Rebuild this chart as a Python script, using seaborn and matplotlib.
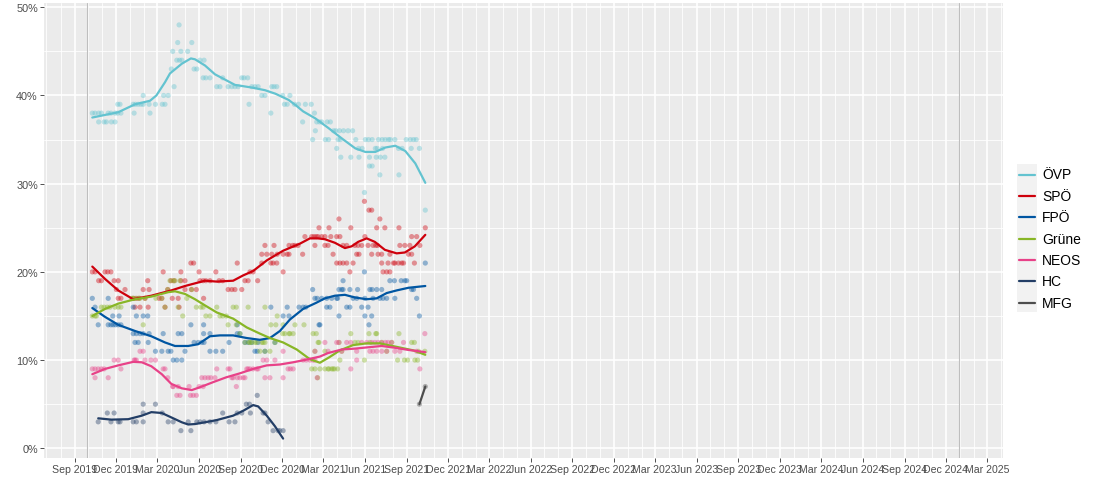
import matplotlib
matplotlib.use("Agg")
import matplotlib.pyplot as plt
import matplotlib.dates as mdates
from matplotlib.lines import Line2D
from matplotlib.patches import Rectangle
import pandas as pd
import seaborn as sns

# ---------------- data ----------------
PARTIES = ["ÖVP", "SPÖ", "FPÖ", "Grüne", "NEOS", "HC", "MFG"]
COLORS = ["#63C3D0", "#CE000C", "#0056A2", "#88B626", "#E84188", "#233E66", "#4D4D4D"]
Y_TICKS = [0, 10, 20, 30, 40, 50]
ELECTION_DATE = "2019-09-29"
END_DATE = "2024-12-30"

OEVP_DATES = [
    "2019-10-10", "2019-10-16", "2019-10-24", "2019-10-24", "2019-10-30", "2019-11-05", "2019-11-10", "2019-11-14", "2019-11-20", "2019-11-21",
    "2019-11-29", "2019-11-29", "2019-12-05", "2019-12-05", "2019-12-10", "2019-12-12", "2020-01-08", "2020-01-10", "2020-01-13", "2020-01-19",
    "2020-01-25", "2020-01-30", "2020-01-30", "2020-02-12", "2020-02-14", "2020-02-26", "2020-03-12", "2020-03-15", "2020-03-18", "2020-03-25",
    "2020-04-01", "2020-04-04", "2020-04-07", "2020-04-13", "2020-04-15", "2020-04-18", "2020-04-19", "2020-04-22", "2020-04-24", "2020-05-07",
    "2020-05-16", "2020-05-21", "2020-05-27", "2020-06-03", "2020-06-10", "2020-06-12", "2020-06-16", "2020-06-25", "2020-07-10", "2020-07-17",
    "2020-07-23", "2020-08-04", "2020-08-12", "2020-08-19", "2020-08-26", "2020-09-03", "2020-09-08", "2020-09-16", "2020-09-19", "2020-09-25",
    "2020-10-02", "2020-10-09", "2020-10-17", "2020-10-24", "2020-11-06", "2020-11-08", "2020-11-13", "2020-11-19", "2020-12-02", "2020-12-06",
    "2020-12-12", "2020-12-18", "2020-12-28", "2021-01-06", "2021-01-15", "2021-01-21", "2021-02-03", "2021-02-06", "2021-02-10", "2021-02-12",
    "2021-02-15", "2021-02-21", "2021-02-26", "2021-03-06", "2021-03-10", "2021-03-13", "2021-03-17", "2021-03-24", "2021-03-29", "2021-03-31",
    "2021-04-03", "2021-04-06", "2021-04-08", "2021-04-09", "2021-04-15", "2021-04-25", "2021-05-01", "2021-05-05", "2021-05-12", "2021-05-18",
    "2021-05-19", "2021-05-26", "2021-05-31", "2021-06-02", "2021-06-09", "2021-06-11", "2021-06-11", "2021-06-17", "2021-06-17", "2021-06-24",
    "2021-06-26", "2021-06-28", "2021-07-01", "2021-07-04", "2021-07-05", "2021-07-09", "2021-07-10", "2021-07-15", "2021-07-16", "2021-07-23",
    "2021-07-27", "2021-08-06", "2021-08-14", "2021-08-15", "2021-08-22", "2021-08-31", "2021-09-09", "2021-09-11", "2021-09-16", "2021-09-22",
    "2021-09-29", "2021-10-12"]
OEVP_VALUES = [
    38, 38, 37, 38, 38, 37, 37, 38, 38, 37,
    37, 38, 39, 38, 39, 38, 39, 38, 39, 39,
    39, 40, 39, 39, 38, 39, 39, 40, 39, 40,
    43, 45, 41, 44, 46, 48, 44, 45, 44, 45,
    46, 43, 43, 44, 42, 44, 42, 42, 41, 41,
    42, 41, 41, 41, 41, 42, 42, 42, 39, 41,
    41, 41, 40, 40, 38, 41, 41, 41, 40, 39,
    39, 40, 39, 39, 37, 39, 39, 35, 38, 36,
    37, 37, 37, 35, 37, 35, 37, 36, 36, 34,
    35, 36, 35, 33, 36, 36, 33, 36, 35, 34,
    33, 34, 29, 35, 35, 32, 33, 35, 32, 34,
    33, 34, 35, 31, 33, 35, 34, 33, 35, 35,
    35, 35, 34, 31, 34, 35, 35, 34, 35, 35,
    34, 27]

SPOE_DATES = [
    "2019-10-10", "2019-10-16", "2019-10-24", "2019-10-30", "2019-11-07", "2019-11-13", "2019-11-20", "2019-11-27", "2019-12-02", "2019-12-06",
    "2019-12-06", "2019-12-12", "2019-12-21", "2020-01-08", "2020-01-12", "2020-01-15", "2020-01-21", "2020-01-23", "2020-01-30", "2020-02-03",
    "2020-02-09", "2020-02-10", "2020-02-12", "2020-03-05", "2020-03-11", "2020-03-14", "2020-03-18", "2020-03-24", "2020-03-31", "2020-04-03",
    "2020-04-07", "2020-04-16", "2020-04-18", "2020-04-22", "2020-04-22", "2020-05-01", "2020-05-01", "2020-05-14", "2020-05-15", "2020-05-20",
    "2020-05-26", "2020-06-01", "2020-06-03", "2020-06-10", "2020-06-11", "2020-06-16", "2020-06-25", "2020-07-08", "2020-07-15", "2020-07-23",
    "2020-08-04", "2020-08-12", "2020-08-19", "2020-08-24", "2020-09-03", "2020-09-10", "2020-09-17", "2020-09-21", "2020-09-28", "2020-10-08",
    "2020-10-17", "2020-10-17", "2020-10-24", "2020-10-28", "2020-11-06", "2020-11-08", "2020-11-11", "2020-11-13", "2020-11-19", "2020-11-20",
    "2020-12-03", "2020-12-03", "2020-12-12", "2020-12-16", "2020-12-16", "2020-12-24", "2020-12-29", "2021-01-05", "2021-01-15", "2021-01-20",
    "2021-02-04", "2021-02-09", "2021-02-11", "2021-02-14", "2021-02-18", "2021-02-20", "2021-02-26", "2021-03-05", "2021-03-05", "2021-03-12",
    "2021-03-14", "2021-03-18", "2021-03-23", "2021-03-31", "2021-03-31", "2021-04-05", "2021-04-07", "2021-04-07", "2021-04-14", "2021-04-14",
    "2021-04-22", "2021-04-22", "2021-04-29", "2021-05-01", "2021-05-06", "2021-05-10", "2021-05-14", "2021-05-17", "2021-05-19", "2021-05-25",
    "2021-05-31", "2021-06-01", "2021-06-08", "2021-06-10", "2021-06-16", "2021-06-16", "2021-06-19", "2021-06-25", "2021-06-27", "2021-06-29",
    "2021-06-30", "2021-07-04", "2021-07-08", "2021-07-08", "2021-07-11", "2021-07-15", "2021-07-19", "2021-07-22", "2021-07-26", "2021-07-26",
    "2021-08-03", "2021-08-06", "2021-08-14", "2021-08-15", "2021-08-17", "2021-08-21", "2021-08-25", "2021-08-28", "2021-09-05", "2021-09-08",
    "2021-09-12", "2021-09-12", "2021-09-18", "2021-09-23", "2021-09-30", "2021-10-12"]
SPOE_VALUES = [
    20, 20, 19, 19, 20, 20, 20, 19, 18, 19,
    17, 17, 18, 17, 16, 17, 17, 16, 18, 17,
    19, 16, 18, 17, 17, 20, 16, 18, 19, 17,
    19, 17, 16, 20, 19, 18, 19, 21, 18, 21,
    18, 20, 19, 19, 17, 19, 19, 20, 19, 19,
    18, 18, 18, 21, 18, 19, 19, 20, 20, 19,
    22, 21, 23, 22, 21, 22, 21, 23, 21, 22,
    22, 20, 22, 23, 22, 23, 23, 23, 22, 24,
    24, 24, 23, 24, 24, 25, 24, 24, 23, 23,
    25, 24, 22, 24, 21, 26, 24, 21, 23, 21,
    23, 21, 20, 25, 21, 23, 22, 23, 22, 23,
    28, 24, 23, 27, 27, 22, 23, 23, 25, 23,
    22, 26, 22, 21, 20, 25, 20, 21, 22, 20,
    21, 21, 21, 25, 23, 21, 21, 23, 22, 23,
    24, 22, 21, 24, 23, 25]

FPOE_DATES = [
    "2019-10-10", "2019-10-16", "2019-10-23", "2019-11-14", "2019-11-14", "2019-11-20", "2019-11-24", "2019-11-25", "2019-11-30", "2019-12-06",
    "2019-12-08", "2019-12-12", "2020-01-08", "2020-01-08", "2020-01-12", "2020-01-15", "2020-01-15", "2020-01-19", "2020-01-23", "2020-01-30",
    "2020-01-30", "2020-02-09", "2020-02-10", "2020-02-12", "2020-02-26", "2020-03-11", "2020-03-14", "2020-03-25", "2020-03-31", "2020-04-05",
    "2020-04-13", "2020-04-16", "2020-04-24", "2020-04-24", "2020-05-01", "2020-05-14", "2020-05-21", "2020-05-30", "2020-06-07", "2020-06-11",
    "2020-06-11", "2020-06-12", "2020-06-25", "2020-06-25", "2020-07-08", "2020-07-23", "2020-08-06", "2020-08-24", "2020-08-24", "2020-08-30",
    "2020-09-10", "2020-09-17", "2020-09-25", "2020-10-02", "2020-10-07", "2020-10-09", "2020-10-24", "2020-11-06", "2020-11-15", "2020-12-03",
    "2020-12-12", "2020-12-16", "2021-01-07", "2021-01-16", "2021-01-22", "2021-02-06", "2021-02-11", "2021-02-16", "2021-02-20", "2021-02-22",
    "2021-02-26", "2021-03-09", "2021-03-09", "2021-03-16", "2021-03-20", "2021-03-31", "2021-04-02", "2021-04-05", "2021-04-05", "2021-04-11",
    "2021-04-14", "2021-04-14", "2021-04-22", "2021-04-29", "2021-04-29", "2021-05-06", "2021-05-14", "2021-05-16", "2021-05-25", "2021-05-31",
    "2021-06-01", "2021-06-01", "2021-06-08", "2021-06-10", "2021-06-12", "2021-06-16", "2021-06-17", "2021-06-19", "2021-06-27", "2021-07-04",
    "2021-07-08", "2021-07-11", "2021-07-19", "2021-07-26", "2021-08-05", "2021-08-06", "2021-08-20", "2021-08-28", "2021-09-01", "2021-09-12",
    "2021-09-16", "2021-09-23", "2021-09-29", "2021-10-12"]
FPOE_VALUES = [
    17, 16, 14, 17, 14, 14, 15, 14, 14, 14,
    15, 14, 13, 16, 12, 15, 13, 12, 13, 15,
    13, 15, 12, 13, 11, 11, 13, 11, 11, 10,
    10, 13, 13, 10, 11, 14, 12, 12, 12, 14,
    13, 12, 13, 11, 11, 11, 12, 14, 13, 13,
    12, 12, 12, 11, 11, 12, 11, 16, 12, 15,
    16, 15, 16, 16, 16, 18, 17, 17, 14, 14,
    17, 17, 16, 16, 17, 17, 17, 18, 15, 18,
    18, 19, 16, 16, 18, 17, 17, 18, 16, 20,
    17, 15, 16, 14, 18, 15, 18, 17, 18, 17,
    18, 17, 17, 19, 19, 17, 19, 19, 19, 18,
    18, 17, 15, 21]

GRUENE_DATES = [
    "2019-10-10", "2019-10-16", "2019-10-19", "2019-10-30", "2019-11-05", "2019-11-12", "2019-11-18", "2019-11-29", "2019-12-06", "2019-12-12",
    "2020-01-05", "2020-01-08", "2020-01-12", "2020-01-19", "2020-01-23", "2020-01-30", "2020-02-03", "2020-02-27", "2020-03-11", "2020-03-18",
    "2020-03-24", "2020-03-29", "2020-04-05", "2020-04-09", "2020-04-16", "2020-04-20", "2020-04-26", "2020-05-05", "2020-05-16", "2020-05-26",
    "2020-06-05", "2020-06-10", "2020-06-16", "2020-06-25", "2020-07-10", "2020-07-17", "2020-07-23", "2020-07-31", "2020-08-04", "2020-08-15",
    "2020-08-22", "2020-08-22", "2020-08-30", "2020-09-10", "2020-09-17", "2020-09-19", "2020-09-21", "2020-09-25", "2020-10-02", "2020-10-06",
    "2020-10-13", "2020-10-17", "2020-10-20", "2020-10-24", "2020-10-24", "2020-10-24", "2020-11-04", "2020-11-06", "2020-11-15", "2020-11-17",
    "2020-11-20", "2020-12-02", "2020-12-03", "2020-12-07", "2020-12-16", "2020-12-18", "2020-12-25", "2020-12-29", "2021-01-18", "2021-02-04",
    "2021-02-07", "2021-02-11", "2021-02-11", "2021-02-14", "2021-02-17", "2021-02-18", "2021-02-20", "2021-02-22", "2021-03-05", "2021-03-05",
    "2021-03-12", "2021-03-14", "2021-03-20", "2021-03-23", "2021-03-26", "2021-04-02", "2021-04-05", "2021-04-07", "2021-04-11", "2021-05-01",
    "2021-05-10", "2021-05-17", "2021-05-31", "2021-06-10", "2021-06-12", "2021-06-25", "2021-06-27", "2021-07-08", "2021-07-19", "2021-07-30",
    "2021-08-12", "2021-08-15", "2021-08-27", "2021-09-03", "2021-09-12", "2021-09-18", "2021-09-19", "2021-09-25", "2021-09-27", "2021-10-11"]
GRUENE_VALUES = [
    15, 15, 15, 16, 16, 16, 16, 16, 16, 16,
    17, 17, 17, 17, 17, 14, 17, 17, 17, 16,
    18, 19, 19, 19, 16, 19, 15, 17, 18, 16,
    16, 16, 15, 15, 16, 15, 15, 15, 14, 16,
    16, 14, 13, 12, 16, 12, 12, 12, 12, 12,
    11, 12, 12, 16, 11, 12, 11, 14, 12, 14,
    15, 13, 14, 13, 13, 13, 13, 14, 14, 9,
    13, 9, 11, 13, 8, 12, 12, 9, 11, 9,
    9, 9, 9, 9, 9, 9, 12, 10, 11, 13,
    12, 12, 10, 13, 12, 13, 13, 12, 11, 12,
    10, 13, 10, 10, 12, 12, 10, 10, 11, 11]

NEOS_DATES = [
    "2019-10-10", "2019-10-16", "2019-10-16", "2019-10-23", "2019-10-30", "2019-11-05", "2019-11-14", "2019-11-27", "2019-12-06", "2019-12-12",
    "2020-01-10", "2020-01-12", "2020-01-15", "2020-01-23", "2020-01-30", "2020-02-03", "2020-02-16", "2020-02-26", "2020-03-14", "2020-03-18",
    "2020-03-24", "2020-04-04", "2020-04-05", "2020-04-13", "2020-04-16", "2020-04-20", "2020-05-10", "2020-05-13", "2020-05-19", "2020-05-26",
    "2020-06-01", "2020-06-07", "2020-06-10", "2020-06-14", "2020-06-21", "2020-06-27", "2020-07-06", "2020-07-10", "2020-08-04", "2020-08-08",
    "2020-08-12", "2020-08-15", "2020-08-22", "2020-08-24", "2020-08-30", "2020-09-06", "2020-09-10", "2020-09-14", "2020-09-17", "2020-09-21",
    "2020-09-28", "2020-10-06", "2020-10-09", "2020-10-20", "2020-10-24", "2020-10-28", "2020-11-04", "2020-11-15", "2020-12-03", "2020-12-03",
    "2020-12-14", "2020-12-19", "2020-12-25", "2021-01-16", "2021-01-23", "2021-01-31", "2021-02-07", "2021-02-11", "2021-02-11", "2021-02-16",
    "2021-03-05", "2021-03-12", "2021-03-31", "2021-04-05", "2021-04-11", "2021-04-22", "2021-05-01", "2021-05-01", "2021-05-14", "2021-05-14",
    "2021-05-25", "2021-06-05", "2021-06-12", "2021-06-16", "2021-06-19", "2021-06-23", "2021-06-27", "2021-06-30", "2021-07-08", "2021-07-08",
    "2021-07-16", "2021-07-19", "2021-07-22", "2021-07-30", "2021-08-06", "2021-08-17", "2021-08-25", "2021-09-23", "2021-09-30", "2021-10-11"]
NEOS_VALUES = [
    9, 9, 8, 9, 9, 9, 8, 10, 10, 9,
    10, 10, 10, 11, 11, 10, 10, 10, 9, 9,
    8, 7, 7, 6, 7, 6, 7, 6, 6, 6,
    7, 8, 7, 8, 8, 8, 8, 9, 9, 9,
    8, 8, 7, 8, 8, 8, 8, 9, 9, 9,
    9, 9, 9, 10, 8, 10, 8, 10, 11, 8,
    9, 9, 9, 10, 10, 10, 10, 11, 10, 8,
    12, 11, 12, 12, 11, 12, 12, 9, 11, 10,
    12, 12, 11, 12, 11, 12, 11, 12, 12, 11,
    12, 11, 12, 12, 11, 11, 12, 11, 9, 13]

HC_DATES = [
    "2019-10-23", "2019-11-12", "2019-11-20", "2019-11-27", "2019-12-06", "2019-12-10", "2020-01-08", "2020-01-15", "2020-01-30", "2020-01-30",
    "2020-01-30", "2020-02-26", "2020-03-12", "2020-03-25", "2020-04-05", "2020-04-22", "2020-05-08", "2020-05-14", "2020-05-27", "2020-06-03",
    "2020-06-12", "2020-06-25", "2020-07-08", "2020-07-23", "2020-08-06", "2020-08-19", "2020-08-24", "2020-09-03", "2020-09-13", "2020-09-20",
    "2020-09-22", "2020-10-07", "2020-10-20", "2020-10-24", "2020-10-31", "2020-11-11", "2020-11-22", "2020-11-26", "2020-12-03"]
HC_VALUES = [
    3, 4, 3, 4, 3, 3, 3, 3, 3, 4,
    5, 5, 4, 3, 3, 2, 3, 2, 3, 3,
    3, 3, 3, 4, 3, 3, 4, 4, 5, 5,
    4, 6, 4, 4, 3, 2, 2, 2, 2]

MFG_DATES = ["2021-09-29", "2021-10-12"]
MFG_VALUES = [5, 7]

# smoothed trend lines
OEVP_TREND_DATES = ["2019-10-10", "2019-12-06", "2020-01-12", "2020-02-14", "2020-02-28", "2020-03-18", "2020-03-29", "2020-04-24", "2020-05-14", "2020-05-23",
                    "2020-06-14", "2020-07-06", "2020-07-28", "2020-08-19", "2020-09-25", "2020-10-24", "2020-11-16", "2020-12-15", "2021-01-02", "2021-01-16",
                    "2021-02-12", "2021-03-13", "2021-04-12", "2021-05-11", "2021-06-02", "2021-06-24", "2021-07-16", "2021-08-07", "2021-08-29", "2021-09-20",
                    "2021-10-12"]
OEVP_TREND_VALUES = [37.5, 38.1, 39.0, 39.4, 40.0, 41.5, 42.5, 43.6, 44.2, 44.1,
                     43.4, 42.4, 41.8, 41.2, 40.9, 40.6, 40.2, 39.5, 38.8, 38.2,
                     37.4, 36.3, 35.1, 34.0, 33.6, 33.6, 34.1, 34.3, 33.7, 32.3,
                     30.1]
SPOE_TREND_DATES = ["2019-10-10", "2019-11-07", "2019-12-06", "2020-01-08", "2020-02-17", "2020-04-01", "2020-05-01", "2020-06-14", "2020-07-10", "2020-08-15",
                    "2020-09-06", "2020-09-28", "2020-10-28", "2020-12-03", "2021-01-09", "2021-01-31", "2021-02-18", "2021-03-05", "2021-03-27", "2021-04-18",
                    "2021-05-03", "2021-05-17", "2021-06-05", "2021-06-23", "2021-07-15", "2021-08-10", "2021-08-28", "2021-09-19", "2021-10-12"]
SPOE_TREND_VALUES = [20.6, 19.2, 17.9, 16.9, 17.3, 17.9, 18.4, 19.0, 18.9, 19.0,
                     19.6, 20.1, 21.3, 22.4, 23.2, 23.8, 23.8, 23.7, 23.3, 22.7,
                     22.9, 23.4, 23.8, 23.4, 22.5, 22.1, 22.2, 22.9, 24.2]
FPOE_TREND_DATES = ["2019-10-10", "2019-11-07", "2019-12-06", "2020-01-12", "2020-02-17", "2020-03-18", "2020-04-09", "2020-05-08", "2020-05-30", "2020-06-25",
                    "2020-07-17", "2020-08-15", "2020-09-14", "2020-10-13", "2020-11-04", "2020-11-26", "2020-12-18", "2021-01-16", "2021-02-14", "2021-03-05",
                    "2021-03-27", "2021-04-18", "2021-05-10", "2021-06-05", "2021-06-27", "2021-07-19", "2021-08-10", "2021-09-05", "2021-10-12"]
FPOE_TREND_VALUES = [15.9, 14.9, 14.0, 13.3, 12.7, 12.0, 11.6, 11.6, 11.8, 12.7,
                     12.8, 12.8, 12.5, 12.3, 12.5, 13.3, 14.6, 15.8, 16.5, 17.0,
                     17.3, 17.4, 17.1, 16.9, 17.0, 17.6, 17.9, 18.2, 18.4]
GRUENE_TREND_DATES = ["2019-10-10", "2019-11-07", "2019-12-06", "2020-01-12", "2020-02-17", "2020-03-25", "2020-04-09", "2020-05-01", "2020-05-23", "2020-06-14",
                      "2020-07-10", "2020-08-15", "2020-09-14", "2020-10-13", "2020-11-04", "2020-12-03", "2021-01-02", "2021-01-31", "2021-02-22", "2021-03-14",
                      "2021-04-07", "2021-05-06", "2021-06-05", "2021-07-04", "2021-08-10", "2021-09-16", "2021-10-12"]
GRUENE_TREND_VALUES = [15.0, 15.8, 16.4, 16.9, 17.2, 17.7, 17.8, 17.5, 16.9, 16.2,
                       15.4, 14.7, 13.7, 13.0, 12.5, 12.0, 11.2, 10.1, 9.7, 10.3,
                       11.1, 11.7, 11.9, 11.9, 11.5, 11.1, 10.6]
NEOS_TREND_DATES = ["2019-10-10", "2019-11-07", "2019-12-06", "2020-01-08", "2020-01-27", "2020-02-17", "2020-03-11", "2020-04-01", "2020-04-24", "2020-05-16",
                    "2020-06-07", "2020-07-02", "2020-07-31", "2020-08-30", "2020-09-28", "2020-10-28", "2020-11-26", "2020-12-25", "2021-01-23", "2021-02-22",
                    "2021-03-12", "2021-04-11", "2021-05-10", "2021-06-08", "2021-07-08", "2021-08-06", "2021-09-05", "2021-10-12"]
NEOS_TREND_VALUES = [8.4, 9.0, 9.4, 9.8, 9.75, 9.3, 8.4, 7.3, 6.8, 6.6,
                     7.0, 7.5, 8.05, 8.5, 9.0, 9.4, 9.5, 9.75, 10.05, 10.4,
                     10.8, 11.2, 11.3, 11.45, 11.6, 11.4, 11.15, 10.9]
HC_TREND_DATES = ["2019-10-23", "2019-11-21", "2019-12-28", "2020-01-27", "2020-02-17", "2020-03-11", "2020-04-01", "2020-04-24", "2020-05-08", "2020-05-23",
                  "2020-06-14", "2020-07-10", "2020-08-15", "2020-09-06", "2020-09-28", "2020-10-09", "2020-10-28", "2020-11-15", "2020-12-03"]
HC_TREND_VALUES = [3.4, 3.25, 3.3, 3.7, 4.1, 4.0, 3.5, 2.95, 2.7, 2.75,
                   2.95, 3.2, 3.7, 4.25, 4.9, 4.75, 3.7, 2.5, 1.1]
MFG_TREND_DATES = ["2021-09-29", "2021-10-12"]
MFG_TREND_VALUES = [5, 7]


def make_frame(names, date_lists, value_lists):
    parts = []
    for n, d, v in zip(names, date_lists, value_lists):
        assert len(d) == len(v), (n, len(d), len(v))
        parts.append(pd.DataFrame({"party": n, "date": pd.to_datetime(d), "value": v}))
    return pd.concat(parts, ignore_index=True)


polls = make_frame(PARTIES,
                   [OEVP_DATES, SPOE_DATES, FPOE_DATES, GRUENE_DATES, NEOS_DATES, HC_DATES, MFG_DATES],
                   [OEVP_VALUES, SPOE_VALUES, FPOE_VALUES, GRUENE_VALUES, NEOS_VALUES, HC_VALUES, MFG_VALUES])
trends = make_frame(PARTIES,
                    [OEVP_TREND_DATES, SPOE_TREND_DATES, FPOE_TREND_DATES, GRUENE_TREND_DATES,
                     NEOS_TREND_DATES, HC_TREND_DATES, MFG_TREND_DATES],
                    [OEVP_TREND_VALUES, SPOE_TREND_VALUES, FPOE_TREND_VALUES, GRUENE_TREND_VALUES,
                     NEOS_TREND_VALUES, HC_TREND_VALUES, MFG_TREND_VALUES])
palette = dict(zip(PARTIES, COLORS))

# ---------------- style ----------------
sns.set_theme(style="darkgrid", rc={"axes.facecolor": "#EBEBEB", "grid.color": "white"})
plt.rcParams["font.family"] = ["Liberation Sans", "DejaVu Sans"]

W, H = 1100, 489
fig = plt.figure(figsize=(W / 100, H / 100), dpi=100)
fig.patch.set_facecolor("white")
ax = fig.add_axes([43.7 / W, 1 - 459 / H, (1002.7 - 43.7) / W, (459 - 4.3) / H])

sns.scatterplot(data=polls, x="date", y="value", hue="party", hue_order=PARTIES, palette=palette,
                s=14, alpha=0.4, linewidth=0, legend=False, ax=ax, zorder=3)
sns.lineplot(data=trends, x="date", y="value", hue="party", hue_order=PARTIES, palette=palette,
             estimator=None, linewidth=1.6, legend=False, ax=ax, zorder=4)

for d in (ELECTION_DATE, END_DATE):
    ax.axvline(pd.Timestamp(d), color="#BEBEBE", lw=0.8, zorder=2)

ax.set_xlim(pd.Timestamp("2019-06-25"), pd.Timestamp("2025-04-05"))
ax.set_ylim(-1.1, 50.45)
ax.set_xlabel("")
ax.set_ylabel("")

ax.xaxis.set_major_locator(mdates.MonthLocator(bymonth=[3, 6, 9, 12]))
ax.xaxis.set_major_formatter(mdates.DateFormatter("%b %Y"))
ax.xaxis.set_minor_locator(mdates.MonthLocator())
ax.set_yticks(Y_TICKS)
ax.set_yticklabels([f"{v}%" for v in Y_TICKS])
ax.set_yticks([5, 15, 25, 35, 45], minor=True)

ax.grid(which="major", color="white", lw=1.2)
ax.grid(which="minor", color="white", lw=0.6)
ax.set_axisbelow(True)
for s in ax.spines.values():
    s.set_visible(False)
ax.tick_params(which="major", length=2.7, width=0.6, color="#333333", labelsize=7.6,
               labelcolor="#4D4D4D", pad=1.5)
ax.tick_params(axis="y", labelsize=7.8)
ax.tick_params(which="minor", length=0)
ax.tick_params(axis="x", bottom=True)
ax.tick_params(axis="y", left=True)

# ---------------- legend ----------------
fig.add_artist(Rectangle((1017 / W, 1 - 313 / H), 20 / W, 148 / H, transform=fig.transFigure,
                         facecolor="#F2F2F2", edgecolor="none", zorder=0))
for i, (p, c) in enumerate(zip(PARTIES, COLORS)):
    yc = 1 - (175.5 + i * 21.35) / H
    fig.add_artist(Line2D([1018.7 / W, 1034.7 / W], [yc, yc], transform=fig.transFigure,
                          color=c, lw=1.6, zorder=2))
    fig.text(1042 / W, yc, p, ha="left", va="center", fontsize=10, color="black")

fig.savefig("out.png", dpi=100, facecolor="white")
